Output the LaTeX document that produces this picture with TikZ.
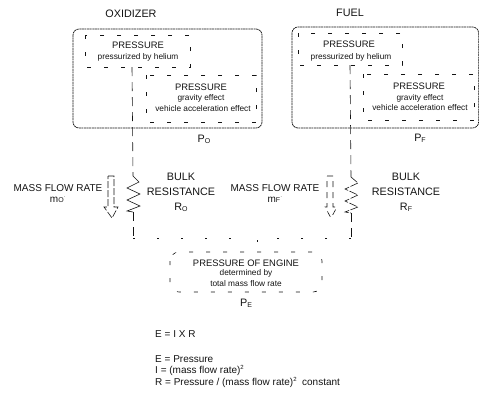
\documentclass[tikz,border=0pt]{standalone}
\usepackage{fontspec}
\setmainfont{Liberation Sans}
\usetikzlibrary{positioning}
\definecolor{ink}{gray}{0.08}
\tikzset{
  x=1pt,y=-1pt,
  outerbox/.style={draw=ink,line width=.7pt,rounded corners=6pt,dash pattern=on 2pt off .6pt},
  innerbox/.style={draw=ink,line width=.6pt,dash pattern=on 4pt off 13pt},
  flowline/.style={draw=ink,line width=.6pt,dash pattern=on 9pt off 6pt},
  faintline/.style={draw=ink,line width=.6pt,dash pattern=on 2pt off 22pt},
  coil/.style={draw=ink,line width=.6pt},
  flowarrow/.style={draw=ink,line width=.6pt,dash pattern=on 7pt off 2pt},
  big/.style={font=\fontsize{10.8}{15}\selectfont,text=ink,align=center,inner sep=0pt},
  mid/.style={font=\fontsize{9.4}{11}\selectfont,text=ink,align=center,inner sep=0pt},
  small/.style={font=\fontsize{8.3}{10}\selectfont,text=ink,align=center,inner sep=0pt},
  eqn/.style={font=\fontsize{10}{12}\selectfont,text=ink,anchor=west,inner sep=0pt},
}
\newcommand{\subs}[1]{\raisebox{-.8pt}{\fontsize{7}{7}\selectfont #1}}
\newcommand{\sups}[1]{\raisebox{4pt}{\fontsize{6}{6}\selectfont #1}}
\begin{document}
\begin{tikzpicture}
\useasboundingbox (0,0) rectangle (479,392);
% Oxidizer group
\node[big] (oxt) at (131,14) {OXIDIZER};
\draw[outerbox] (73,29) rectangle (262,128);
\draw[innerbox] (85,35) rectangle (190,67);
\draw[innerbox] (146,75) rectangle (256,122);
\node[mid] (oxpa) at (138,45) {PRESSURE};
\node[small] (oxpb) at (138,57) {pressurized by helium};
\node[mid] (oxpc) at (201,87) {PRESSURE};
\node[small] (oxpd) at (201,98) {gravity effect};
\node[small] (oxpe) at (203,109) {vehicle acceleration effect};
\node[big] (po) at (204,139) {P\subs{O}};
% Fuel group
\node[big] (ft) at (350,13) {FUEL};
\draw[outerbox] (292,27) rectangle (478.6,128);
\draw[innerbox] (298,33) rectangle (402,65);
\draw[innerbox] (363,74) rectangle (474,120);
\node[mid] (fpa) at (349,44) {PRESSURE};
\node[small] (fpb) at (351,57) {pressurized by helium};
\node[mid] (fpc) at (419,86) {PRESSURE};
\node[small] (fpd) at (420,98) {gravity effect};
\node[small] (fpe) at (420,108) {vehicle acceleration effect};
\node[big] (pf) at (420,138) {P\subs{F}};
% Anchors on the flow lines
\coordinate (ostart) at (132,67);
\coordinate (otop) at (133,176);
\coordinate (obot) at (133,212);
\coordinate (oend) at (133,238);
\coordinate (fstart) at (350,65);
\coordinate (ftop) at (351,177);
\coordinate (fbot) at (351,213);
\coordinate (fend) at (351,238);
% Engine
\node[mid] (eng) at (246,263) {PRESSURE OF ENGINE};
\node[small] (enga) at (246,273) {determined by};
\node[small] (engb) at (246,284) {total mass flow rate};
\draw[innerbox,rounded corners=9pt] (170,252) rectangle (322,292);
\coordinate (ein1) at (234,252);
\coordinate (ein2) at (257,252);
\node[big] (pe) at (246,303) {P\subs{E}};
% Flow lines
\draw[flowline] (ostart) -- (otop);
\draw[flowline] (obot) -- (oend);
\draw[flowline] (fstart) -- (ftop);
\draw[flowline] (fbot) -- (fend);
\draw[faintline] (oend) -- (ein1 |- oend) -- (ein1);
\draw[faintline] (fend) -- (ein2 |- fend) -- (ein2);
% Resistors
\draw[coil] (otop) -- (139,182) -- (127,188) -- (140,194) -- (127,200) -- (140,206) -- (127,211) -- (obot);
\draw[coil,dash pattern=on 8pt off 1.5pt] (ftop) -- (358,183) -- (345,189) -- (358,195) -- (345,201) -- (358,207) -- (345,212) -- (fbot);
% Hollow arrows
\draw[flowarrow] (108,176) -- (114,176) -- (114,207) -- (118,207) -- (112,218) -- (104,207) -- (108,207) -- cycle;
\draw[flowarrow,dash pattern=on 6pt off 5pt] (327,176) -- (333,176) -- (333,207) -- (337,207) -- (331,218) -- (325,207) -- (327,207) -- cycle;
% Labels
\node[mid,font=\fontsize{10}{11}\selectfont] (mo) at (58,193.5) {MASS FLOW RATE\\m\subs{O}\sups{$\cdot$}};
\node[big] (ro) at (181,192) {BULK\\RESISTANCE\\R\subs{O}};
\node[mid,font=\fontsize{10}{11}\selectfont] (mf) at (275,193.5) {MASS FLOW RATE\\m\subs{F}\sups{$\cdot$}};
\node[big] (rf) at (406,192) {BULK\\RESISTANCE\\R\subs{F}};
% Equations
\node[eqn] (e1) at (155,334) {E = I X R};
\node[eqn] (e2) at (155,359) {E = Pressure};
\node[eqn] (e3) at (155,370) {I = (mass flow rate)\sups{2}};
\node[eqn] (e4) at (155,382) {R = Pressure / (mass flow rate)\sups{2}\ \ constant};
\end{tikzpicture}
\end{document}
